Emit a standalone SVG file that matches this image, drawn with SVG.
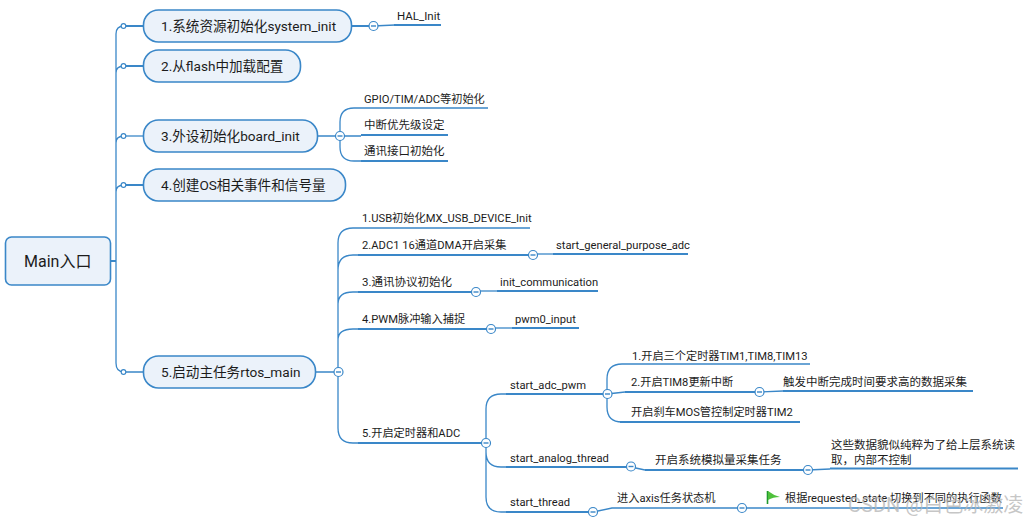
<svg xmlns="http://www.w3.org/2000/svg" width="1024" height="521" viewBox="0 0 1024 521">
<style>
text{font-family:"Roboto","Noto Sans CJK SC",sans-serif;fill:#1c1c1c}
.t{font-size:11.500px}
.s{font-size:11.200px}
.m{font-size:13.600px}
.r{font-size:16px}
.box{fill:#ebf2fa;stroke:#3a87c8;stroke-width:1.6}
.l{fill:none;stroke:#3a87c8;stroke-width:1.3}
.u{fill:none;stroke:#3a87c8;stroke-width:2}
.c{fill:#fff;stroke:#3a87c8;stroke-width:1.2}
.d{stroke:#3a87c8;stroke-width:1.4}
.w{font-size:20px;fill:#b4b4b4;fill-opacity:.75}
</style>
<defs>
<g id="minus"><circle class="c" r="4.500"/><path class="d" d="M-2.500 0H2.500"/></g>
<circle id="dot" class="c" r="2.300"/>
</defs>
<rect width="1024" height="521" fill="#fff"/>
<g id="connectors">
<path class="l" d="M116 34V363Q116 372 124 372H143M116 34Q116 26 124 26M116 73Q116 66 124 66M116 143Q116 136 124 136M116 192Q116 185 124 185"/>
<path class="u" d="M111 261H116M124 26H143M124 66H143M124 185H143"/>
<path class="l" d="M124 136H143"/>
<path class="u" d="M352 26H373"/><path class="l" d="M373 26 395 25"/><path class="u" d="M394 25H441"/>
<path class="l" d="M318 136H361M340 136V122Q340 108 354 108H488M340 136V147Q340 161 354 161H361"/>
<path class="u" d="M361 135H448M361 161H448"/>
<path class="l" d="M316 372H338M338 372V243Q338 228 353 228H530M338 270Q338 255 353 255H360M338 304Q338 292 353 292H360M338 340Q338 329 353 329H360M338 372V428Q338 443 353 443H360"/>
<path class="u" d="M358 255H533M358 292H476M358 329H491M358 443H486"/>
<path class="l" d="M533 254H553"/><path class="u" d="M553 254H688"/>
<path class="l" d="M476 291H497"/><path class="u" d="M497 291H598"/>
<path class="l" d="M491 328H512"/><path class="u" d="M512 328H579"/>
<path class="l" d="M486 443V409Q486 394 501 394H510M486 443V452Q486 467 501 467H510M486 443V497Q486 512 501 512H510"/>
<path class="u" d="M506 394H607M506 467H631M506 512H593"/>
<path class="l" d="M607 394V379Q607 364 622 364H810M607 394V407Q607 422 622 422H800M607 394 625 392"/>
<path class="u" d="M625 392H760M620 422H800"/>
<path class="l" d="M760 392 783 391"/><path class="u" d="M783 391H973"/>
<path class="l" d="M631 467 645 470"/><path class="u" d="M645 470H808"/>
<path class="l" d="M808 470 830 469"/><path class="u" d="M830 468.500H1018"/>
<path class="l" d="M593 512 612 508H742"/>
<path class="l" d="M742 508H1003"/>
</g>
<g id="main"><rect class="box" x="5.500" y="237" width="105" height="48" rx="6"/><text class="r" x="24" y="267">Main入口</text></g>
<g id="n1"><rect class="box" x="143.500" y="10" width="208" height="32" rx="15"/><text class="m" x="161" y="31">1.系统资源初始化system_init</text><use href="#dot" x="123.500" y="26"/><use href="#minus" x="373.500" y="26"/></g>
<g id="n2"><rect class="box" x="143.500" y="50" width="157" height="32" rx="15"/><text class="m" x="161" y="71">2.从flash中加载配置</text><use href="#dot" x="123.500" y="66"/></g>
<g id="n3"><rect class="box" x="143.500" y="120" width="174" height="32" rx="15"/><text class="m" x="161" y="141">3.外设初始化board_init</text><use href="#dot" x="123.500" y="136"/><use href="#minus" x="340" y="136"/></g>
<g id="n4"><rect class="box" x="143.500" y="169" width="202" height="32" rx="15"/><text class="m" x="161" y="190">4.创建OS相关事件和信号量</text><use href="#dot" x="123.500" y="185"/></g>
<g id="n5"><rect class="box" x="143.500" y="356" width="172" height="32" rx="15"/><text class="m" x="161" y="377">5.启动主任务rtos_main</text><use href="#dot" x="123.500" y="372"/><use href="#minus" x="338.500" y="372"/></g>
<g id="labels">
<text class="t" x="397" y="20">HAL_Init</text>
<text class="s" x="364" y="103">GPIO/TIM/ADC等初始化</text>
<text class="t" x="364" y="129">中断优先级设定</text>
<text class="t" x="364" y="155">通讯接口初始化</text>
<text class="s" x="362" y="222">1.USB初始化MX_USB_DEVICE_Init</text>
<text class="s" x="362" y="249">2.ADC1 16通道DMA开启采集</text>
<text class="t" x="362" y="286">3.通讯协议初始化</text>
<text class="s" x="362" y="323">4.PWM脉冲输入捕捉</text>
<text class="s" x="362" y="437">5.开启定时器和ADC</text>
<text class="s" x="556" y="249">start_general_purpose_adc</text>
<text class="s" x="500" y="286">init_communication</text>
<text class="s" x="515" y="323">pwm0_input</text>
<text class="s" x="510" y="389">start_adc_pwm</text>
<text class="s" x="510" y="462">start_analog_thread</text>
<text class="s" x="510" y="506">start_thread</text>
<text class="s" x="632" y="360">1.开启三个定时器TIM1,TIM8,TIM13</text>
<text class="s" x="631" y="386">2.开启TIM8更新中断</text>
<text class="s" x="631" y="416">开启刹车MOS管控制定时器TIM2</text>
<text class="t" x="783" y="386">触发中断完成时间要求高的数据采集</text>
<text class="t" x="655" y="464">开启系统模拟量采集任务</text>
<text class="t" x="831" y="449">这些数据貌似纯粹为了给上层系统读</text>
<text class="t" x="831" y="464">取，内部不控制</text>
<text class="s" x="617" y="502">进入axis任务状态机</text>
<text class="s" x="785" y="502">根据requested_state 切换到不同的执行函数</text>
<text class="w" x="848" y="512">CSDN @白色冰激凌</text>
</g>
<g id="toggles">
<use href="#minus" x="533" y="255"/><use href="#minus" x="476" y="292"/><use href="#minus" x="491" y="329"/><use href="#minus" x="486" y="443"/>
<use href="#minus" x="607.500" y="394"/><use href="#minus" x="759.500" y="392"/><use href="#minus" x="631" y="466.500"/><use href="#minus" x="808" y="470"/><use href="#minus" x="593" y="512"/><use href="#minus" x="742" y="508"/>
</g>
<g id="flag"><path d="M767.500 491V504" stroke="#1f9a2c" stroke-width="1.600"/><path d="M768 491Q773 495 780 497 773 497 768 500Z" fill="#4fc13c"/></g>
</svg>
